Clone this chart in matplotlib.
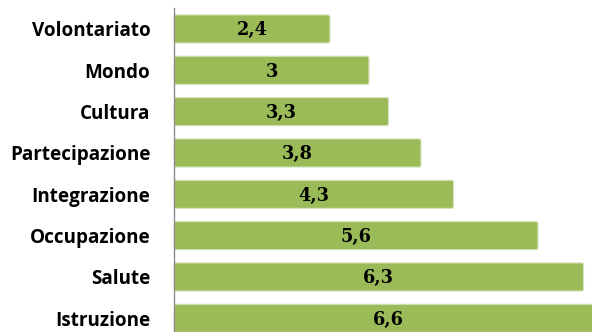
import matplotlib
matplotlib.use("Agg")
import matplotlib.pyplot as plt
from matplotlib.patches import FancyBboxPatch

categories = ["Volontariato", "Mondo", "Cultura", "Partecipazione",
              "Integrazione", "Occupazione", "Salute", "Istruzione"]
values = [2.4, 3.0, 3.3, 3.8, 4.3, 5.6, 6.3, 6.6]
value_labels = ["2,4", "3", "3,3", "3,8", "4,3", "5,6", "6,3", "6,6"]

W, H = 592, 332
fig = plt.figure(figsize=(W / 100, H / 100), dpi=100)
ax_left = 174 / W
ax_width = 6.6 * 65 / W
ax_top = 1 - 8.3 / H
ax_height = 330.7 / H
ax = fig.add_axes([ax_left, ax_top - ax_height, ax_width, ax_height])

green = "#9BBB59"
ypos = list(range(len(categories)))
bars = ax.barh(ypos, values, height=0.68, color=green)
for rect in bars.patches:
    x, y = rect.get_x(), rect.get_y()
    w, h = rect.get_width(), rect.get_height()
    rect.set_visible(False)
    fb = FancyBboxPatch((x, y), w, h,
                        boxstyle="round,pad=0,rounding_size=0.03",
                        mutation_aspect=1.6,
                        facecolor=green, edgecolor="#d5e3bb", linewidth=0.8)
    ax.add_patch(fb)

for yi, v, lab in zip(ypos, values, value_labels):
    ax.text(v / 2, yi + 0.03, lab, ha="center", va="center",
            fontsize=12.8, fontweight="bold", family="DejaVu Serif",
            color="black")

ax.set_xlim(0, 6.6)
ax.set_ylim(7.5, -0.5)
ax.set_yticks(ypos)
ax.set_yticklabels(categories, fontsize=13.6, fontweight="bold", family="Open Sans")
ax.tick_params(axis="y", length=0, pad=17)
ax.set_xticks([])
for s in ["top", "right", "bottom"]:
    ax.spines[s].set_visible(False)
ax.spines["left"].set_color("#8c8c8c")
ax.spines["left"].set_linewidth(1.0)

fig.savefig("out.png", dpi=100)
